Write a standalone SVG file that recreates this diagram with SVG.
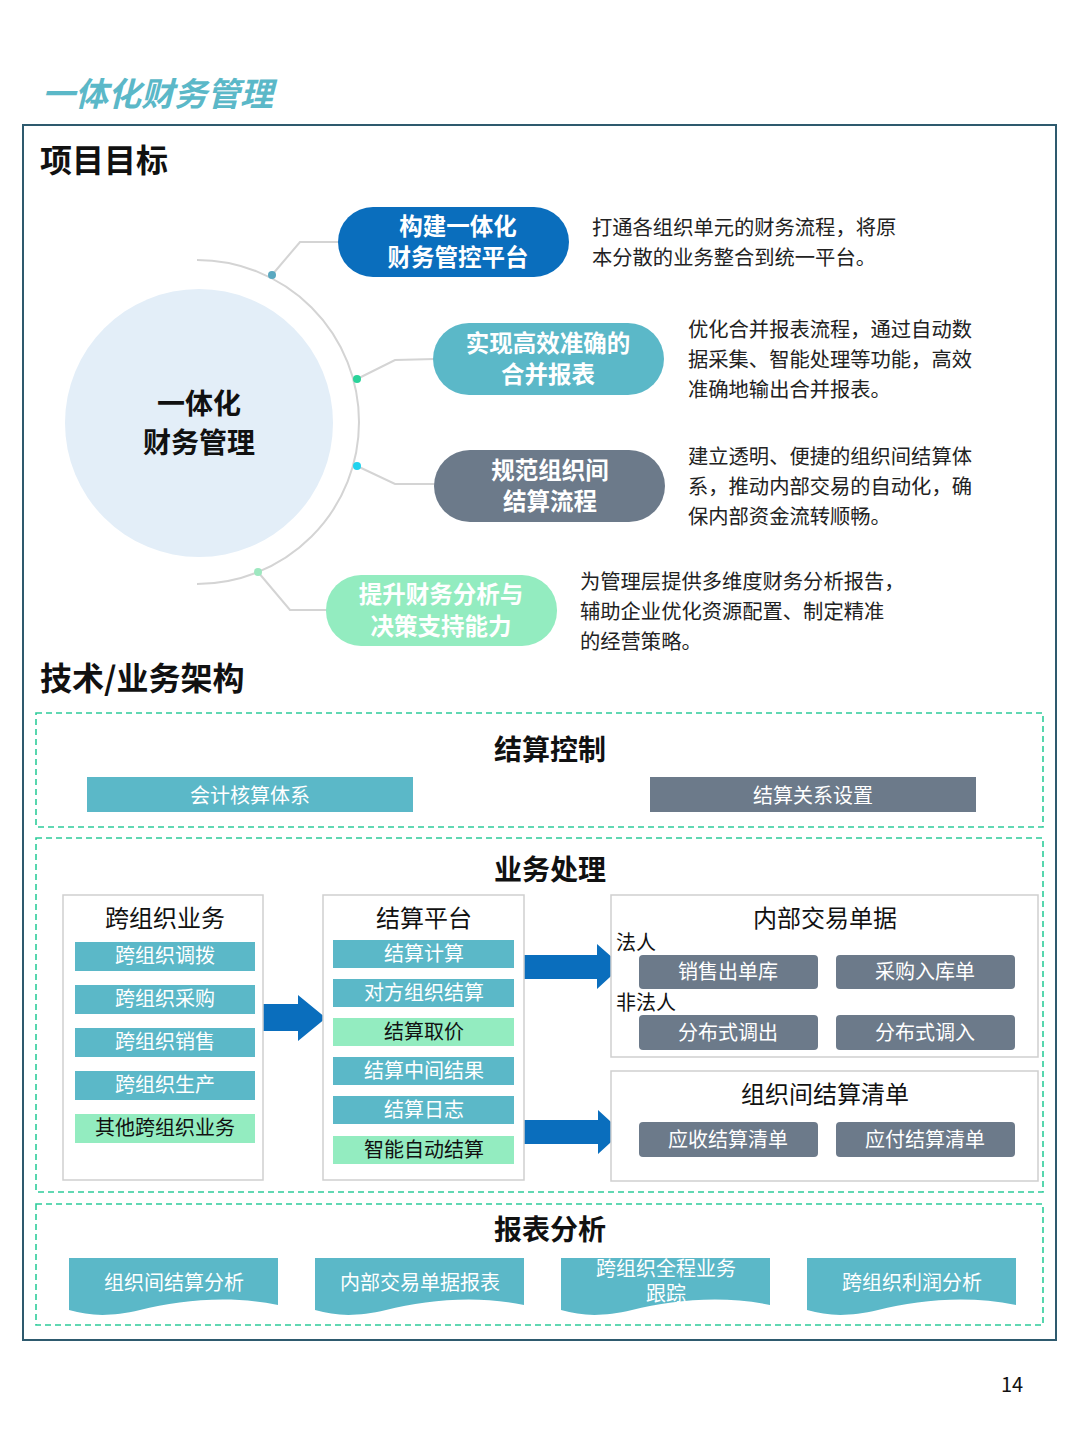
<svg xmlns="http://www.w3.org/2000/svg" width="1080" height="1440" viewBox="0 0 1080 1440">
<defs>
<style>
text{font-family:"Noto Sans CJK SC","Liberation Sans",sans-serif}
.h{font-size:32px;font-weight:bold;fill:#111}
.sec{font-size:28px;font-weight:bold;fill:#111;text-anchor:middle}
.pill{font-size:23.5px;font-weight:bold;fill:#fff;text-anchor:middle}
.desc{font-size:20.3px;fill:#222}
.dash{fill:none;stroke:#2ecc9a;stroke-width:1.6;stroke-dasharray:6 4}
.col{fill:#fff;stroke:#cfcfcf;stroke-width:1.5}
.ct{font-size:24px;fill:#111;text-anchor:middle}
.it{font-size:20px;fill:#fff;text-anchor:middle}
.itd{font-size:20px;fill:#111;text-anchor:middle}
.teal{fill:#5bb8c8}
.grn{fill:#93ecc0}
.gry{fill:#6c7a8a}
.conn{fill:none;stroke:#d4d4d4;stroke-width:2}
.arr{fill:#0a6ebd}
</style>
</defs>
<rect width="1080" height="1440" fill="#fff"/>
<text x="42" y="106" font-size="33" font-weight="bold" font-style="italic" fill="#5bb8c8">一体化财务管理</text>
<rect x="23" y="125" width="1033" height="1215" fill="none" stroke="#2e5a6e" stroke-width="2"/>
<text class="h" x="40" y="172">项目目标</text>

<g id="center">
<circle cx="199" cy="423" r="134" fill="#e3eef8"/>
<text x="199" y="414" font-size="28" font-weight="bold" fill="#111" text-anchor="middle">一体化</text>
<text x="199" y="453" font-size="28" font-weight="bold" fill="#111" text-anchor="middle">财务管理</text>
</g>
<g id="connectors">
<path class="conn" d="M197 260 A162 162 0 0 1 197 584"/>
<path class="conn" d="M272 275 L300 242 L340 242"/>
<path class="conn" d="M357 379 L395 360 L435 359"/>
<path class="conn" d="M357 466 L395 484 L436 484"/>
<path class="conn" d="M258 572 L290 610 L328 610"/>
<circle cx="272" cy="275" r="4" fill="#5aa8c0"/>
<circle cx="357" cy="379" r="4" fill="#2ad39a"/>
<circle cx="357" cy="466" r="4" fill="#22d3ee"/>
<circle cx="258" cy="572" r="4" fill="#9ee8c0"/>
<path class="arr" d="M263 1004 H298 V995 L326 1018 L298 1041 V1031 H263 Z"/>
<path class="arr" d="M522 955 H597 V944 L622 966 L597 989 V979 H522 Z"/>
<path class="arr" d="M523 1120 H598 V1110 L622 1132 L598 1154 V1144 H523 Z"/>
</g>

<g id="goal1">
<rect x="338" y="207" width="231" height="70" rx="35" fill="#0a6ebd"/>
<text class="pill" x="458" y="235">构建一体化</text>
<text class="pill" x="458" y="266">财务管控平台</text>
<text class="desc" x="592" y="235">打通各组织单元的财务流程，将原</text>
<text class="desc" x="592" y="265">本分散的业务整合到统一平台。</text>
</g>
<g id="goal2">
<rect x="433" y="323" width="231" height="72" rx="36" fill="#5bb8c8"/>
<text class="pill" x="548" y="352">实现高效准确的</text>
<text class="pill" x="548" y="383">合并报表</text>
<text class="desc" x="688" y="337">优化合并报表流程，通过自动数</text>
<text class="desc" x="688" y="367">据采集、智能处理等功能，高效</text>
<text class="desc" x="688" y="397">准确地输出合并报表。</text>
</g>
<g id="goal3">
<rect x="434" y="450" width="231" height="72" rx="36" fill="#6c7a8a"/>
<text class="pill" x="550" y="479">规范组织间</text>
<text class="pill" x="550" y="510">结算流程</text>
<text class="desc" x="688" y="464">建立透明、便捷的组织间结算体</text>
<text class="desc" x="688" y="494">系，推动内部交易的自动化，确</text>
<text class="desc" x="688" y="524">保内部资金流转顺畅。</text>
</g>
<g id="goal4">
<rect x="326" y="575" width="231" height="71" rx="35" fill="#93ecc0"/>
<text class="pill" x="441" y="603">提升财务分析与</text>
<text class="pill" x="441" y="635">决策支持能力</text>
<text class="desc" x="580" y="589">为管理层提供多维度财务分析报告，</text>
<text class="desc" x="580" y="619">辅助企业优化资源配置、制定精准</text>
<text class="desc" x="580" y="649">的经营策略。</text>
</g>

<text class="h" x="40" y="690">技术/业务架构</text>

<g id="ctrl">
<rect class="dash" x="36" y="713" width="1007" height="114"/>
<text class="sec" x="550" y="760">结算控制</text>
<rect class="teal" x="87" y="777" width="326" height="35"/>
<text class="it" x="250" y="803" font-size="24">会计核算体系</text>
<rect class="gry" x="650" y="777" width="326" height="35"/>
<text class="it" x="813" y="803" font-size="24">结算关系设置</text>
</g>

<g id="biz">
<rect class="dash" x="36" y="838" width="1007" height="354"/>
<text class="sec" x="550" y="880">业务处理</text>
</g>
<g id="col1">
<rect class="col" x="63" y="895" width="200" height="285"/>
<text class="ct" x="165" y="927">跨组织业务</text>
<rect class="teal" x="75" y="942" width="180" height="29"/><text class="it" x="165" y="963">跨组织调拨</text>
<rect class="teal" x="75" y="985" width="180" height="29"/><text class="it" x="165" y="1006">跨组织采购</text>
<rect class="teal" x="75" y="1028" width="180" height="29"/><text class="it" x="165" y="1049">跨组织销售</text>
<rect class="teal" x="75" y="1071" width="180" height="29"/><text class="it" x="165" y="1092">跨组织生产</text>
<rect class="grn" x="75" y="1114" width="180" height="29"/><text class="itd" x="165" y="1135">其他跨组织业务</text>
</g>
<g id="col2">
<rect class="col" x="323" y="895" width="201" height="285"/>
<text class="ct" x="424" y="927">结算平台</text>
<rect class="teal" x="333" y="940" width="181" height="28"/><text class="it" x="424" y="961">结算计算</text>
<rect class="teal" x="333" y="979" width="181" height="28"/><text class="it" x="424" y="1000">对方组织结算</text>
<rect class="grn" x="333" y="1018" width="181" height="28"/><text class="itd" x="424" y="1039">结算取价</text>
<rect class="teal" x="333" y="1057" width="181" height="28"/><text class="it" x="424" y="1078">结算中间结果</text>
<rect class="teal" x="333" y="1096" width="181" height="28"/><text class="it" x="424" y="1117">结算日志</text>
<rect class="grn" x="333" y="1136" width="181" height="28"/><text class="itd" x="424" y="1157">智能自动结算</text>
</g>
<g id="docs">
<rect class="col" x="611" y="895" width="427" height="162"/>
<text class="ct" x="825" y="927">内部交易单据</text>
<text x="616" y="950" font-size="20" fill="#111">法人</text>
<rect class="gry" x="639" y="955" width="179" height="34" rx="4"/><text class="it" x="728" y="979">销售出单库</text>
<rect class="gry" x="836" y="955" width="179" height="34" rx="4"/><text class="it" x="925" y="979">采购入库单</text>
<text x="616" y="1010" font-size="20" fill="#111">非法人</text>
<rect class="gry" x="639" y="1015" width="179" height="35" rx="4"/><text class="it" x="728" y="1040">分布式调出</text>
<rect class="gry" x="836" y="1015" width="179" height="35" rx="4"/><text class="it" x="925" y="1040">分布式调入</text>
</g>
<g id="lists">
<rect class="col" x="611" y="1071" width="427" height="110"/>
<text class="ct" x="825" y="1103">组织间结算清单</text>
<rect class="gry" x="639" y="1122" width="179" height="35" rx="4"/><text class="it" x="728" y="1147">应收结算清单</text>
<rect class="gry" x="836" y="1122" width="179" height="35" rx="4"/><text class="it" x="925" y="1147">应付结算清单</text>
</g>

<g id="report">
<rect class="dash" x="36" y="1204" width="1007" height="121"/>
<text class="sec" x="550" y="1240">报表分析</text>
<path class="teal" d="M69 1258 H278 V1305 C230 1295 180 1300 140 1310 C110 1317 90 1316 69 1310 Z"/>
<text class="it" x="174" y="1290">组织间结算分析</text>
<path class="teal" d="M315 1258 H524 V1305 C476 1295 426 1300 386 1310 C356 1317 336 1316 315 1310 Z"/>
<text class="it" x="420" y="1290">内部交易单据报表</text>
<path class="teal" d="M561 1258 H770 V1305 C722 1295 672 1300 632 1310 C602 1317 582 1316 561 1310 Z"/>
<text class="it" x="666" y="1276" font-size="19">跨组织全程业务</text>
<text class="it" x="666" y="1301" font-size="19">跟踪</text>
<path class="teal" d="M807 1258 H1016 V1305 C968 1295 918 1300 878 1310 C848 1317 828 1316 807 1310 Z"/>
<text class="it" x="912" y="1290">跨组织利润分析</text>
</g>
<text x="1012" y="1392" font-size="20" fill="#111" text-anchor="middle">14</text>
</svg>
